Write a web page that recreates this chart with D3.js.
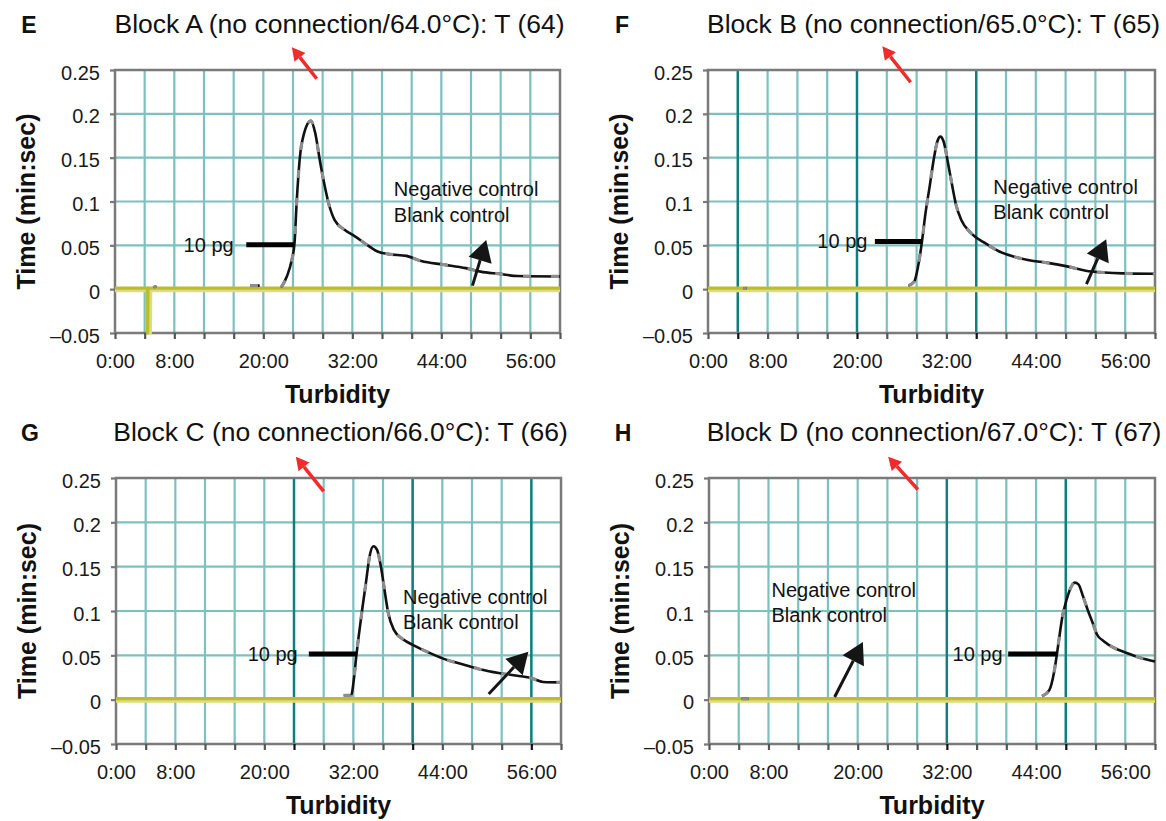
<!DOCTYPE html>
<html>
<head>
<meta charset="utf-8">
<script src="https://cdn.jsdelivr.net/npm/d3@7"></script>
<style>
  body { margin: 0; background: #fff; }
  svg { font-family: "Liberation Sans", Arial, sans-serif; }
</style>
</head>
<body>
<div id="chart"></div>
<script>
// Panel letters and titles
const panelLetters = ["E", "F", "G", "H"];
const panelTitles = [
  "Block A (no connection/64.0\u00B0C): T (64)",
  "Block B (no connection/65.0\u00B0C): T (65)",
  "Block C (no connection/66.0\u00B0C): T (66)",
  "Block D (no connection/67.0\u00B0C): T (67)"
];

// Axis ticks (minutes on x, value on y)
const xGridMinutes = [0, 4, 8, 12, 16, 20, 24, 28, 32, 36, 40, 44, 48, 52, 56, 60];
const xTickValues = [0, 8, 20, 32, 44, 56];
const xTickLabels = ["0:00", "8:00", "20:00", "32:00", "44:00", "56:00"];
const yTickValues = [-0.05, 0, 0.05, 0.1, 0.15, 0.2, 0.25];
const yTickLabels = ["\u20130.05", "0", "0.05", "0.1", "0.15", "0.2", "0.25"];

// darker grid lines in each panel (minutes)
const darkGridE = [];
const darkGridF = [4, 20, 36];
const darkGridG = [24, 40, 56];
const darkGridH = [32, 48];

// 10 pg curves [minute, value]; null = gap
const curve10pgE = [
  [5.2, 0.002], [5.6, 0.0035], null,
  [18.2, 0.004], [19.5, 0.004], null,
  [22.4, 0.002], [23.2, 0.015], [23.8, 0.032], [24.2, 0.052], [24.5, 0.1], [24.9, 0.148],
  [25.5, 0.178], [26.4, 0.192], [27.0, 0.178], [27.6, 0.148], [28.1, 0.125], [28.8, 0.098],
  [29.6, 0.079], [30.9, 0.068], [32.4, 0.060], [33.9, 0.051], [35.4, 0.043], [36.9, 0.040],
  [39.3, 0.038], [41.3, 0.032], [44.3, 0.028], [47.3, 0.024], [49.3, 0.020], [51.8, 0.0175],
  [54.3, 0.015], [60, 0.0145]
];
const curve10pgF = [
  [4.7, 0.001], [5.2, 0.001], null,
  [26.9, 0.004], [27.7, 0.009], [28.2, 0.026], [28.7, 0.053], [29.2, 0.087], [29.75, 0.117],
  [30.3, 0.148], [30.8, 0.169], [31.2, 0.174], [31.6, 0.169], [32.3, 0.14], [32.8, 0.117],
  [33.3, 0.096], [34.0, 0.079], [35.3, 0.064], [37.1, 0.053], [39.1, 0.043], [41.1, 0.037],
  [43.1, 0.033], [45.6, 0.030], [48.2, 0.026], [50.7, 0.021], [53.2, 0.019], [55.7, 0.018],
  [60, 0.0175]
];
const curve10pgG = [
  [30.7, 0.005], [31.7, 0.005], [32.1, 0.025], [32.4, 0.049], [32.7, 0.070], [33.2, 0.102],
  [33.7, 0.132], [34.2, 0.162], [34.7, 0.173], [35.2, 0.169], [35.7, 0.151], [36.2, 0.124],
  [36.7, 0.098], [37.45, 0.079], [38.7, 0.068], [40.2, 0.061], [42.2, 0.053], [44.2, 0.046],
  [46.7, 0.040], [49.2, 0.034], [51.6, 0.030], [54.1, 0.027], [56.1, 0.024], [57.6, 0.020],
  [60, 0.0195]
];
const curve10pgH = [
  [4.4, 0.001], [5.3, 0.001], null,
  [44.8, 0.004], [45.8, 0.011], [46.4, 0.030], [46.8, 0.051], [47.15, 0.072], [47.55, 0.094],
  [48.05, 0.111], [48.55, 0.124], [49.2, 0.132], [49.7, 0.130], [50.3, 0.117], [51.0, 0.100],
  [51.6, 0.087], [52.2, 0.0735], [53.1, 0.066], [54.6, 0.058], [56.1, 0.053], [58.1, 0.047],
  [60, 0.043]
];

// Negative control / blank control
const negativeE = [[0, 0.0012], [4.35, 0.0012], [4.4, -0.05], [4.45, 0.0012], [60, 0.0012]];
const blankE = [[0, -0.0014], [4.7, -0.0014], [4.75, -0.05], [4.8, -0.0014], [60, -0.0014]];
const negativeFlat = [[0, 0.0012], [60, 0.0012]];
const blankFlat = [[0, -0.0014], [60, -0.0014]];

// "10 pg" marker line: [start minute, end minute, value]
const marker10pg = [[17.7, 24.15, 0.0507], [22.4, 28.7, 0.0545], [26.0, 32.5, 0.0516], [40.25, 46.8, 0.0516]];
// "10 pg" label right end: [minute]
const label10pgEnd = [16.0, 21.4, 24.5, 39.5];
// control note: [start minute, baseline value line 1, baseline value line 2]
const controlNote = [[37.6, 0.1065, 0.077], [38.3, 0.1085, 0.080], [38.7, 0.108, 0.080], [8.4, 0.1156, 0.0874]];
// black arrow: [tail minute, tail value, head minute, head value]
const controlArrow = [[48.2, 0.004, 50.05, 0.056], [50.8, 0.0057, 53.45, 0.057], [50.25, 0.0064, 55.6, 0.054], [16.9, 0.003, 20.7, 0.065]];
// red arrow above plot
const redArrow = [[27.2, 0.240, 23.85, 0.276], [27.2, 0.236, 23.4, 0.277], [28.0, 0.235, 24.25, 0.274], [28.1, 0.237, 24.1, 0.274]];

const darkGrids = [darkGridE, darkGridF, darkGridG, darkGridH];
const curves = [curve10pgE, curve10pgF, curve10pgG, curve10pgH];
const negatives = [negativeE, negativeFlat, negativeFlat, negativeFlat];
const blanks = [blankE, blankFlat, blankFlat, blankFlat];

// plot rectangles
const layout = [
  { left: 115, top: 70, width: 445, height: 263 },
  { left: 708, top: 70, width: 447, height: 263 },
  { left: 116, top: 478, width: 445, height: 266 },
  { left: 709, top: 478, width: 446, height: 266 }
];

const svg = d3.select("#chart").append("svg")
  .attr("width", 1166)
  .attr("height", 821);

function drawArrow(g, x1, y1, x2, y2, color, w, headLen, headW) {
  const a = Math.atan2(y2 - y1, x2 - x1);
  const bx = x2 - headLen * Math.cos(a), by = y2 - headLen * Math.sin(a);
  g.append("line")
    .attr("x1", x1).attr("y1", y1).attr("x2", bx).attr("y2", by)
    .attr("stroke", color).attr("stroke-width", w);
  const px = Math.sin(a) * headW / 2, py = -Math.cos(a) * headW / 2;
  g.append("polygon")
    .attr("points", `${x2},${y2} ${bx + px},${by + py} ${bx - px},${by - py}`)
    .attr("fill", color);
}

panelLetters.forEach((letter, i) => {
  const L = layout[i];
  const g = svg.append("g");

  const x = d3.scaleLinear().domain([0, 60]).range([L.left, L.left + L.width]);
  const y = d3.scaleLinear().domain([-0.05, 0.25]).range([L.top + L.height, L.top]);

  // Light grid
  g.append("g").selectAll("line")
    .data(xGridMinutes.filter(m => m > 0 && m < 60))
    .join("line")
      .attr("x1", d => x(d)).attr("x2", d => x(d))
      .attr("y1", y(0.25)).attr("y2", y(-0.05))
      .attr("stroke", "#7cc0bf").attr("stroke-width", 2.2);
  g.append("g").selectAll("line")
    .data(yTickValues.filter(v => v > -0.05 && v < 0.25))
    .join("line")
      .attr("x1", x(0)).attr("x2", x(60))
      .attr("y1", d => y(d)).attr("y2", d => y(d))
      .attr("stroke", "#7cc0bf").attr("stroke-width", 2.2);
  // Dark grid
  g.append("g").selectAll("line")
    .data(darkGrids[i])
    .join("line")
      .attr("x1", d => x(d)).attr("x2", d => x(d))
      .attr("y1", y(0.25)).attr("y2", y(-0.05))
      .attr("stroke", "#0f7f7e").attr("stroke-width", 2.4);

  // Border
  g.append("rect")
    .attr("x", x(0)).attr("y", y(0.25))
    .attr("width", x(60) - x(0)).attr("height", y(-0.05) - y(0.25))
    .attr("fill", "none").attr("stroke", "#7a7a7a").attr("stroke-width", 2.5);

  // X axis
  const labelOf = new Map(xTickValues.map((v, k) => [v, xTickLabels[k]]));
  const xAxis = g.append("g")
    .attr("transform", `translate(0,${y(-0.05)})`)
    .call(d3.axisBottom(x).tickValues(xGridMinutes).tickSize(6).tickFormat(d => labelOf.get(d) || ""));
  xAxis.select(".domain").remove();
  xAxis.selectAll(".tick line")
    .attr("stroke", d => darkGrids[i].includes(d) ? "#111" : "#555")
    .attr("stroke-width", 2.2);
  xAxis.selectAll("text")
    .attr("y", 35).attr("dy", null)
    .attr("fill", "#1a1a1a")
    .style("font-size", "20px")
    .style("font-family", "'Liberation Sans', Arial, sans-serif");

  // Y axis
  const yLabelOf = new Map(yTickValues.map((v, k) => [v, yTickLabels[k]]));
  const yAxis = g.append("g")
    .attr("transform", `translate(${x(0)},0)`)
    .call(d3.axisLeft(y).tickValues(yTickValues).tickSize(5).tickFormat(d => yLabelOf.get(d)));
  yAxis.select(".domain").remove();
  yAxis.selectAll(".tick line").attr("stroke", "#777").attr("stroke-width", 2.2);
  yAxis.selectAll("text")
    .attr("x", -15).attr("dy", "0.45em")
    .attr("fill", "#1a1a1a")
    .style("font-size", "20px")
    .style("font-family", "'Liberation Sans', Arial, sans-serif");

  // Controls (yellow)
  const line = d3.line().defined(d => d).x(d => x(d[0])).y(d => y(d[1]));
  g.append("path").datum(blanks[i])
    .attr("d", line).attr("fill", "none")
    .attr("stroke", "#dcdd7c").attr("stroke-width", 3.5).attr("stroke-linejoin", "round");
  g.append("path").datum(negatives[i])
    .attr("d", line).attr("fill", "none")
    .attr("stroke", "#bcbc2c").attr("stroke-width", 3.2).attr("stroke-linejoin", "round");

  // 10 pg curve
  const smooth = d3.line().defined(d => d).x(d => x(d[0])).y(d => y(d[1])).curve(d3.curveMonotoneX);
  g.append("path").datum(curves[i])
    .attr("d", smooth).attr("fill", "none")
    .attr("stroke", "#111").attr("stroke-width", 2.6);
  g.append("path").datum(curves[i])
    .attr("d", smooth).attr("fill", "none")
    .attr("stroke", "#8d8d8d").attr("stroke-width", 3.2)
    .attr("stroke-dasharray", "8,20");

  // 10 pg marker
  const m = marker10pg[i];
  g.append("line")
    .attr("x1", x(m[0])).attr("x2", x(m[1]))
    .attr("y1", y(m[2])).attr("y2", y(m[2]))
    .attr("stroke", "#000").attr("stroke-width", 5);
  g.append("text")
    .attr("x", x(label10pgEnd[i])).attr("y", y(m[2]) + 7)
    .attr("text-anchor", "end")
    .style("font-size", "20px").attr("fill", "#111")
    .text("10 pg");

  // Control note
  const n = controlNote[i];
  g.append("text").attr("x", x(n[0])).attr("y", y(n[1]))
    .style("font-size", "20px").attr("fill", "#111").text("Negative control");
  g.append("text").attr("x", x(n[0])).attr("y", y(n[2]))
    .style("font-size", "20px").attr("fill", "#111").text("Blank control");

  const a = controlArrow[i];
  drawArrow(g, x(a[0]), y(a[1]), x(a[2]), y(a[3]), "#151515", 3, 21, 24);

  const r = redArrow[i];
  drawArrow(g, x(r[0]), y(r[1]), x(r[2]), y(r[3]), "#ef2b2b", 3.5, 13, 14);

  // Titles
  g.append("text")
    .attr("x", L.left - 86).attr("y", L.top - 37)
    .attr("text-anchor", "middle")
    .style("font-size", "23px").style("font-weight", "bold").attr("fill", "#111")
    .text(letter);
  g.append("text")
    .attr("x", L.left + L.width / 2 + 2).attr("y", L.top - 37)
    .attr("text-anchor", "middle")
    .style("font-size", "26.5px").attr("fill", "#111")
    .text(panelTitles[i]);

  // Axis titles
  g.append("text")
    .attr("x", L.left + L.width / 2).attr("y", L.top + L.height + 70)
    .attr("text-anchor", "middle")
    .style("font-size", "25px").style("font-weight", "bold").attr("fill", "#111")
    .text("Turbidity");
  g.append("text")
    .attr("transform", `translate(${L.left - 80},${L.top + L.height / 2}) rotate(-90)`)
    .attr("text-anchor", "middle")
    .style("font-size", "25px").style("font-weight", "bold").attr("fill", "#111")
    .text("Time (min:sec)");
});
</script>
</body>
</html>
